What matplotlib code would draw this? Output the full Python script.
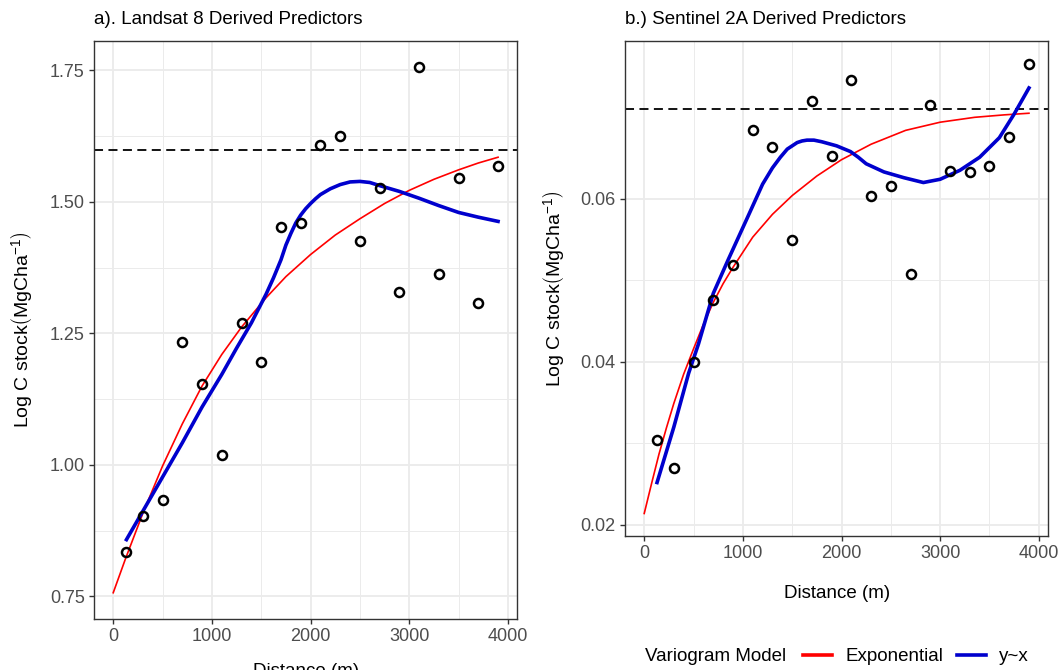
import numpy as np
import matplotlib
matplotlib.use("Agg")
import matplotlib.pyplot as plt
from matplotlib.lines import Line2D

plt.rcParams['font.family'] = ['Liberation Sans', 'DejaVu Sans']
plt.rcParams['mathtext.fontset'] = 'custom'
plt.rcParams['mathtext.rm'] = 'Liberation Sans'
plt.rcParams['mathtext.it'] = 'Liberation Sans:italic'

# empirical variogram bins (distance, m)
dist = [125, 300, 500, 700, 900, 1100, 1300, 1500, 1700, 1900,
        2100, 2300, 2500, 2700, 2900, 3100, 3300, 3500, 3700, 3900]

# a) Landsat 8
gamma_l8 = [0.835, 0.902, 0.933, 1.233, 1.154, 1.019, 1.269, 1.196, 1.453, 1.459,
            1.609, 1.626, 1.426, 1.526, 1.329, 1.756, 1.363, 1.545, 1.308, 1.569]
sill_l8 = 1.598
exp_x_l8 = [0, 125, 300, 500, 700, 900, 1100, 1300, 1550, 1750, 2000,
            2250, 2500, 2750, 3000, 3250, 3500, 3700, 3900]
exp_y_l8 = [0.757, 0.822, 0.908, 0.998, 1.078, 1.150, 1.210, 1.262, 1.318, 1.358, 1.400,
            1.437, 1.468, 1.497, 1.522, 1.543, 1.561, 1.574, 1.585]
sm_x_l8 = [134, 300, 500, 700, 900, 1100, 1250, 1400, 1550, 1625, 1700, 1750, 1800,
           1850, 1900, 1950, 2000, 2050, 2100, 2200, 2300, 2400, 2500, 2600, 2700,
           2900, 3100, 3300, 3500, 3700, 3900]
sm_y_l8 = [0.858, 0.912, 0.977, 1.042, 1.110, 1.172, 1.222, 1.270, 1.325, 1.356, 1.390,
           1.418, 1.440, 1.460, 1.475, 1.487, 1.497, 1.506, 1.514, 1.525, 1.533, 1.538,
           1.539, 1.537, 1.531, 1.520, 1.507, 1.493, 1.480, 1.471, 1.463]

# b) Sentinel 2A
gamma_s2 = [0.0304, 0.0270, 0.0400, 0.0476, 0.0519, 0.0684, 0.0664, 0.0549, 0.0720, 0.0652,
            0.0746, 0.0604, 0.0616, 0.0508, 0.0715, 0.0634, 0.0633, 0.0640, 0.0676, 0.0766]
sill_s2 = 0.0710
exp_x_s2 = [0, 75, 150, 225, 300, 400, 500, 600, 700, 800, 900, 1100, 1300, 1500, 1750, 2000,
            2300, 2650, 3000, 3350, 3650, 3900]
exp_y_s2 = [0.0214, 0.0251, 0.0287, 0.0319, 0.0349, 0.0385, 0.0416, 0.0446, 0.0473, 0.0496,
            0.0516, 0.0553, 0.0581, 0.0604, 0.0628, 0.0648, 0.0667, 0.0684, 0.0694, 0.0700,
            0.0703, 0.0705]
sm_x_s2 = [130, 300, 450, 550, 700, 850, 1050, 1200, 1300, 1380, 1450, 1550, 1600, 1650,
           1720, 1800, 1950, 2090, 2170, 2250, 2430, 2630, 2830, 3000, 3200, 3400, 3600,
           3750, 3900]
sm_y_s2 = [0.0252, 0.0320, 0.0386, 0.0422, 0.0484, 0.0525, 0.0578, 0.0618, 0.0638, 0.0651,
           0.0661, 0.0669, 0.0671, 0.0672, 0.0672, 0.0670, 0.0665, 0.0658, 0.0651, 0.0643,
           0.0633, 0.0626, 0.0620, 0.0624, 0.0635, 0.0651, 0.0675, 0.0704, 0.0736]

xticks = [0, 1000, 2000, 3000, 4000]
yticks_l8 = [0.75, 1.00, 1.25, 1.50, 1.75]
yticks_s2 = [0.02, 0.04, 0.06]

ylab = r'Log C stock$\left(\mathrm{MgCha}^{-1}\right)$'

fig = plt.figure(figsize=(10.62, 6.70), dpi=100)
ax1 = fig.add_axes([0.0885, 0.0761, 0.3986, 0.8627])
ax2 = fig.add_axes([0.5885, 0.2000, 0.3985, 0.7388])


def panel(ax, title, gam, sill, ex, ey, sx, sy, yt, fmt, xlab_y, ylab_x):
    ax.plot(ex, ey, color='#FF0000', lw=1.2, zorder=3)
    ax.plot(sx, sy, color='#0000CD', lw=2.6, zorder=4, solid_joinstyle='round')
    ax.plot(dist, gam, 'o', ms=6.5, mfc='none', mec='black', mew=1.8, zorder=5)
    ax.margins(x=0.05, y=0.05)
    ax.axhline(sill, color='black', lw=1.3, ls=(0, (5, 3)), zorder=2)

    ax.set_xticks(xticks)
    ax.set_xticks([500, 1500, 2500, 3500], minor=True)
    ax.set_yticks(yt)
    ax.set_yticks([(a + b) / 2 for a, b in zip(yt[:-1], yt[1:])], minor=True)
    ax.set_yticklabels([fmt % v for v in yt])
    ax.grid(True, which='major', color='#EBEBEB', lw=1.3, zorder=0)
    ax.grid(True, which='minor', color='#EBEBEB', lw=0.7, zorder=0)
    ax.set_axisbelow(True)
    ax.tick_params(which='major', length=3.6, width=1.0, color='#333333',
                   labelsize=13, labelcolor='#4D4D4D', pad=3)
    ax.tick_params(which='minor', length=0)
    for s in ax.spines.values():
        s.set_color('#333333')
        s.set_linewidth(1.0)

    ax.set_title(title, loc='left', fontsize=13.5, pad=12)
    ax.set_xlabel('Distance (m)', fontsize=13.5)
    ax.xaxis.set_label_coords(0.5, xlab_y)
    ax.set_ylabel(ylab, fontsize=14)
    ax.yaxis.set_label_coords(ylab_x, 0.5)


panel(ax1, 'a). Landsat 8 Derived Predictors', gamma_l8, sill_l8, exp_x_l8, exp_y_l8,
      sm_x_l8, sm_y_l8, yticks_l8, '%.2f', -0.076, -0.141)
panel(ax2, 'b.) Sentinel 2A Derived Predictors', gamma_s2, sill_s2, exp_x_s2, exp_y_s2,
      sm_x_s2, sm_y_s2, yticks_s2, '%.2f', -0.099, -0.139)

# legend under panel b
fig.text(645.4 / 1062, 1 - 656.7 / 670, 'Variogram Model', fontsize=13.5, va='center', ha='left')
handles = [Line2D([], [], color='#FF0000', lw=2.6), Line2D([], [], color='#0000CD', lw=2.6)]
fig.legend(handles, ['Exponential', 'y~x'], ncol=2, frameon=False, fontsize=13.5,
           loc='center left', bbox_to_anchor=(803 / 1062, 1 - 656.7 / 670),
           borderaxespad=0, borderpad=0, handlelength=1.55, handletextpad=0.7,
           columnspacing=0.75)

fig.savefig('out.png', dpi=100)
